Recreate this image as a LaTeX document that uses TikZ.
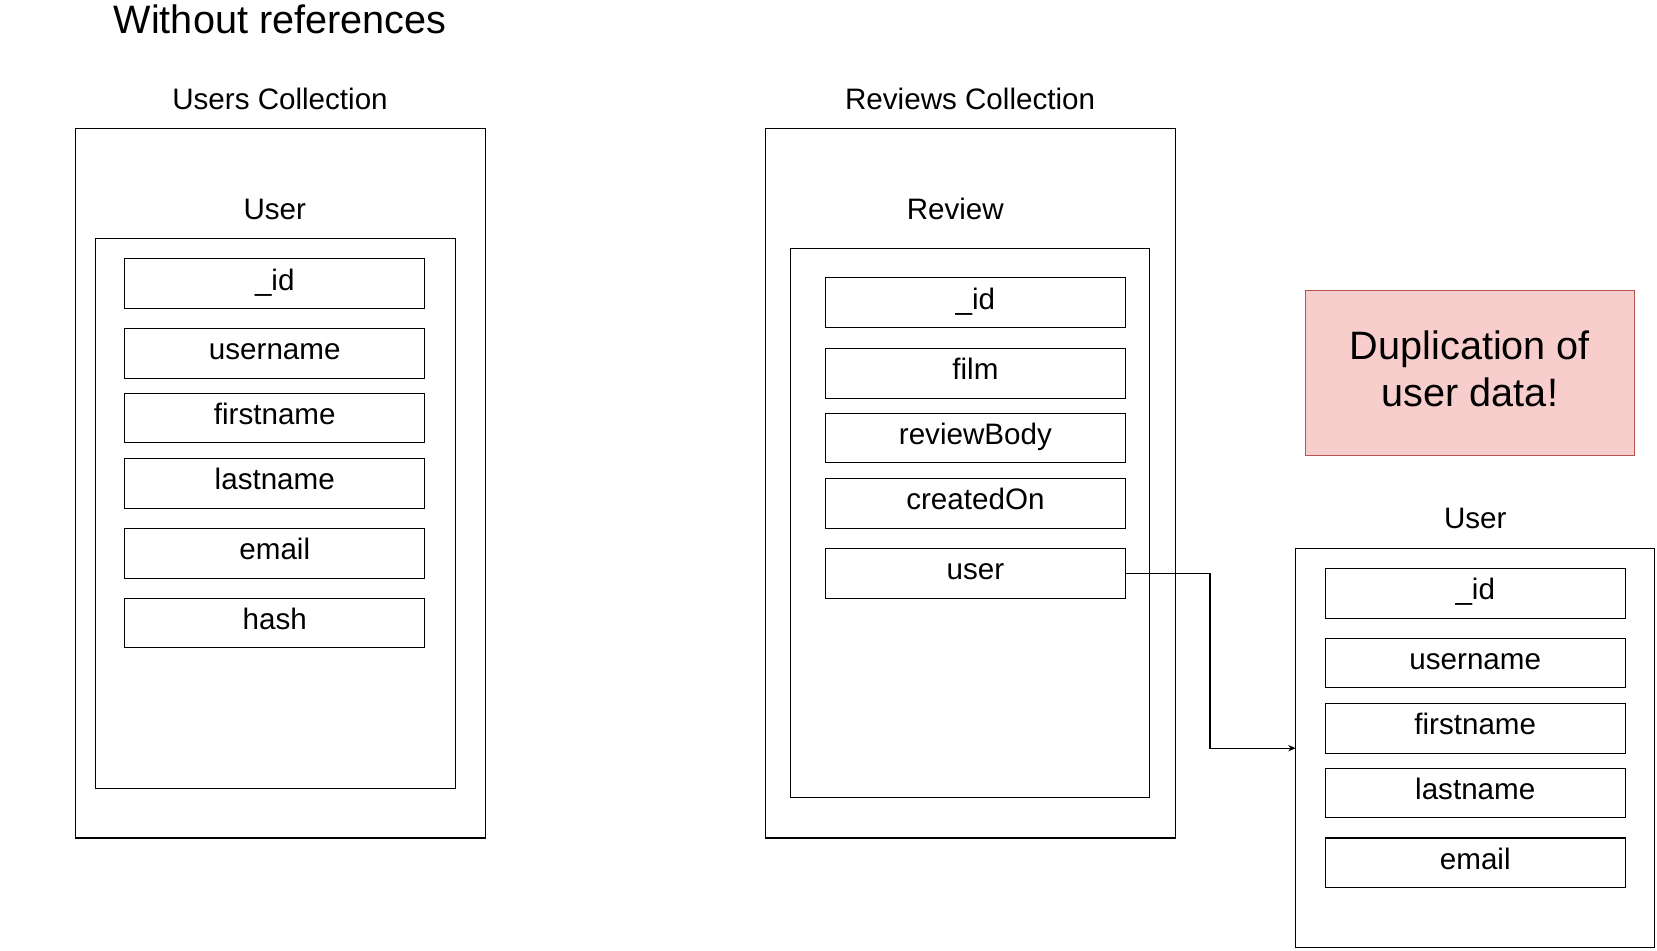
\documentclass[tikz,border=0pt]{standalone}
\usepackage{fontspec}
\setmainfont{Liberation Sans}
\usetikzlibrary{arrows.meta}
\definecolor{pinkfill}{HTML}{F8CECC}
\definecolor{pinkline}{HTML}{B85450}
\tikzset{
  frame/.style={draw=black, line width=1pt, inner sep=0pt, outer sep=0pt, anchor=north west},
  field/.style={draw=black, line width=1pt, inner sep=0pt, outer sep=0pt, anchor=north west,
    minimum width=284pt, minimum height=47pt, text height=20pt, text depth=8pt,
    font=\fontsize{28}{33.6}\selectfont},
  lbl/.style={inner sep=0pt, font=\fontsize{28}{33.6}\selectfont},
  bigtxt/.style={inner sep=0pt, font=\fontsize{37.5}{45}\selectfont, align=center},
  conn/.style={draw=black, line width=1pt, -{Stealth[length=7pt,width=6pt]}}
}
\begin{document}
\begin{tikzpicture}[x=1pt,y=-1pt]
\useasboundingbox (0,0) rectangle (1568,899);
% title
\node[bigtxt] (title) at (265,18) {Without references};
% Users collection
\node[lbl] (ucl) at (265,94) {Users Collection};
\node[frame, minimum width=388pt, minimum height=671pt] (ucol) at (71,122) {};
\node[lbl] (ulbl) at (260,198) {User};
\node[frame, minimum width=341pt, minimum height=520pt] (ubox) at (90,226) {};
\node[field] (uid) at (118,245) {\_id};
\node[field] (uname) at (118,311) {username};
\node[field] (ufirst) at (118,372) {firstname};
\node[field] (ulast) at (118,434) {lastname};
\node[field] (uemail) at (118,500) {email};
\node[field] (uhash) at (118,566) {hash};
% Reviews collection
\node[lbl] (rcl) at (918,94) {Reviews Collection};
\node[frame, minimum width=388pt, minimum height=671pt] (rcol) at (724,122) {};
\node[lbl] (rlbl) at (904,198) {Review};
\node[frame, minimum width=340pt, minimum height=520pt] (rbox) at (748,235) {};
\node[field] (rid) at (781,263) {\_id};
\node[field] (rfilm) at (781,330) {film};
\node[field] (rbody) at (781,391) {reviewBody};
\node[field] (rcreated) at (781,453) {createdOn};
\node[field] (ruser) at (781,519) {user};
% Duplication note
\node[frame, fill=pinkfill, draw=pinkline, minimum width=312pt, minimum height=156pt] (dup) at (1235,275) {};
\node[bigtxt] (duptxt) at ([yshift=4pt]dup.center) {Duplication of\\user data!};
% Embedded user
\node[lbl] (u2lbl) at (1396,491) {User};
\node[frame, minimum width=340pt, minimum height=378pt] (u2box) at (1226,519) {};
\node[field] (u2id) at (1254,538) {\_id};
\node[field] (u2name) at (1254,604) {username};
\node[field] (u2first) at (1254,666) {firstname};
\node[field] (u2last) at (1254,727) {lastname};
\node[field] (u2email) at (1254,793) {email};
% connector
\coordinate (bend) at (1145,708);
\draw[conn] (ruser.east) -| (bend) -- (u2box.west |- bend);
\end{tikzpicture}
\end{document}
